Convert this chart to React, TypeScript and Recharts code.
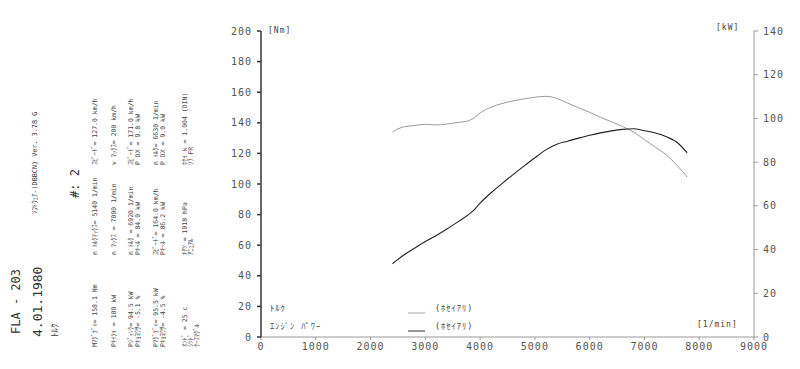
import React from "react";
import { LineChart, Line, XAxis, YAxis } from "recharts";

// engine speed [1/min]
const rpm = [
  2400, 2500, 2600, 2800, 3000, 3200, 3400, 3600, 3800, 3900, 4000, 4100, 4200,
  4400, 4600, 4800, 5000, 5200, 5400, 5600, 5800, 6000, 6200, 6400, 6600, 6800,
  7000, 7200, 7400, 7600, 7780,
];

// torque [Nm] (light line, left axis)
const torqueNm = [
  134.0, 136.0, 137.3, 138.2, 139.0, 138.6, 139.2, 140.2, 141.5, 143.5, 146.5,
  148.6, 150.2, 152.6, 154.3, 155.6, 156.7, 157.3, 156.0, 152.8, 149.8, 146.8,
  143.6, 140.6, 137.6, 134.0, 129.0, 124.0, 119.0, 112.0, 104.5,
];

// engine power [kW] (dark line, right axis)
const powerKw = [
  33.5, 35.5, 37.4, 40.6, 43.7, 46.4, 49.5, 52.8, 56.2, 58.4, 61.2, 63.7, 66.0,
  70.2, 74.3, 78.2, 82.0, 85.6, 88.2, 89.6, 91.0, 92.3, 93.4, 94.3, 95.0, 95.3,
  94.4, 93.3, 91.6, 89.0, 84.2,
];

const rpmTicks = [0, 1000, 2000, 3000, 4000, 5000, 6000, 7000, 8000, 9000];
const nmTicks = [0, 20, 40, 60, 80, 100, 120, 140, 160, 180, 200];
const kwTicks = [0, 20, 40, 60, 80, 100, 120, 140];

// printout header, rotated text lines: [x, startY, size, text]
const headerLines: [number, number, number, string][] = [
  [16, 334, 12, "FLA - 203"],
  [37, 337, 13, "4.01.1980"],
  [55, 337, 9, "ﾄﾙｸ"],
  [35, 214, 6.8, "ｿﾌﾄｳｪｱ-(DBBCN) Ver. 3.78 G"],
  [75, 198, 12, "#: 2"],
];

const paramLines: [number, number, string][] = [
  [95, 347, "Mﾏｸﾞﾃﾞｨ= 158.1 Nm"],
  [95, 255, "n ﾄﾙｸﾏｯｸｽ=  5140 1/min"],
  [95, 165, "ｽﾋﾟｰﾄﾞ=  127.0 km/h"],
  [114, 347, "Pｷｲﾃｲ  =   180 kW"],
  [114, 255, "n ﾏｯｸｽ =  7000 1/min"],
  [114, 165, "v ﾏｯｸｽ=    200 km/h"],
  [131, 347, "Pｼﾞｯｿｸ=  94.5 kW"],
  [138, 347, "Pｷｮﾖｳｻ=  -5.1 %"],
  [131, 255, "n ﾄﾙｸ =  6920 1/min"],
  [138, 255, "Pｷｰﾙ  =  84.0 kW"],
  [131, 165, "ｽﾋﾟｰﾄﾞ=  171.0 km/h"],
  [138, 165, "P DX  =    9.8 kW"],
  [156, 347, "Pﾏｸﾞﾃﾞｨ=  95.5 kW"],
  [163, 347, "Pｷｮﾖｳｻ=  -4.5 %"],
  [156, 255, "ｽﾋﾟｰﾄﾞ=  164.0 km/h"],
  [163, 255, "Pｷｰﾙ  =  86.2 kW"],
  [156, 165, "n ﾄﾙｸ=  6630 1/min"],
  [163, 165, "P DX  =    9.0 kW"],
  [185, 347, "ｵﾝﾄﾞ  =   25   c"],
  [191, 347, "ｼﾂﾄﾞ"],
  [197, 347, "ｹｰｽﾏｸﾞﾙ"],
  [185, 255, "ｷｱﾂ   =  1018  hPa"],
  [191, 255, "ｱﾆｭｱﾙ"],
  [185, 165, "ﾎｾｲ k =  1.004 (DIN)"],
  [191, 165, "ﾘﾌ      FR"],
];

const data = rpm.map((r, i) => ({ rpm: r, torque: torqueNm[i], power: powerKw[i] }));

const mono = "'DejaVu Sans Mono', 'Noto Sans CJK JP', monospace";
const tickStyle = { fill: "#555", fontSize: 10, fontFamily: mono, letterSpacing: 1 };

const Rotated = ({ x, y, size, text, color = "#333" }: any) => (
  <text
    x={x}
    y={y}
    transform={`rotate(-90 ${x} ${y})`}
    dominantBaseline="central"
    fontFamily={mono}
    fontSize={size}
    fill={color}
  >
    {text}
  </text>
);

export default function App() {
  return (
    <div style={{ position: "absolute", left: 0, top: 0, width: 800, height: 369, background: "#fff" }}>
      <LineChart
        width={800}
        height={369}
        data={data}
        margin={{ top: 31, right: 6, bottom: 2, left: 221 }}
      >
        <XAxis
          dataKey="rpm"
          type="number"
          domain={[0, 9000]}
          ticks={rpmTicks}
          height={30}
          stroke="#999"
          tickSize={3}
          tickMargin={3}
          tick={tickStyle}
        />
        <YAxis
          yAxisId="nm"
          domain={[0, 200]}
          ticks={nmTicks}
          width={40}
          stroke="#333"
          strokeWidth={1.5}
          tickSize={4}
          tickMargin={5}
          tick={tickStyle}
        />
        <YAxis
          yAxisId="kw"
          orientation="right"
          domain={[0, 140]}
          ticks={kwTicks}
          width={40}
          stroke="#999"
          tickSize={4}
          tickMargin={5}
          tick={tickStyle}
        />
        <Line
          yAxisId="nm"
          dataKey="torque"
          type="monotone"
          stroke="#9a9a9a"
          strokeWidth={1}
          dot={false}
          isAnimationActive={false}
        />
        <Line
          yAxisId="kw"
          dataKey="power"
          type="monotone"
          stroke="#222"
          strokeWidth={1.1}
          dot={false}
          isAnimationActive={false}
        />
      </LineChart>
      <svg
        width={800}
        height={369}
        style={{ position: "absolute", left: 0, top: 0, pointerEvents: "none" }}
      >
        {headerLines.map(([x, y, s, t]) => (
          <Rotated key={t} x={x} y={y} size={s} text={t} />
        ))}
        {paramLines.map(([x, y, t]) => (
          <Rotated key={`${x}-${y}`} x={x} y={y} size={6.5} text={t} color="#444" />
        ))}
        <g fontFamily={mono} fontSize={8} fill="#444" letterSpacing={1}>
          <text x={268} y={33}>[Nm]</text>
          <text x={716} y={30}>[kW]</text>
          <text x={697} y={327}>[1/min]</text>
        </g>
        <g fontFamily={mono} fontSize={8.5} fill="#444" letterSpacing={1}>
          <text x={270} y={311}>ﾄﾙｸ</text>
          <text x={270} y={329}>ｴﾝｼﾞﾝ ﾊﾟﾜｰ</text>
          <text x={435} y={311}>(ﾎｾｲｱﾘ)</text>
          <text x={435} y={329}>(ﾎｾｲｱﾘ)</text>
        </g>
        <line x1={408} x2={425} y1={313} y2={313} stroke="#aaa" strokeWidth={1} />
        <line x1={408} x2={425} y1={331} y2={331} stroke="#333" strokeWidth={1} />
      </svg>
    </div>
  );
}
